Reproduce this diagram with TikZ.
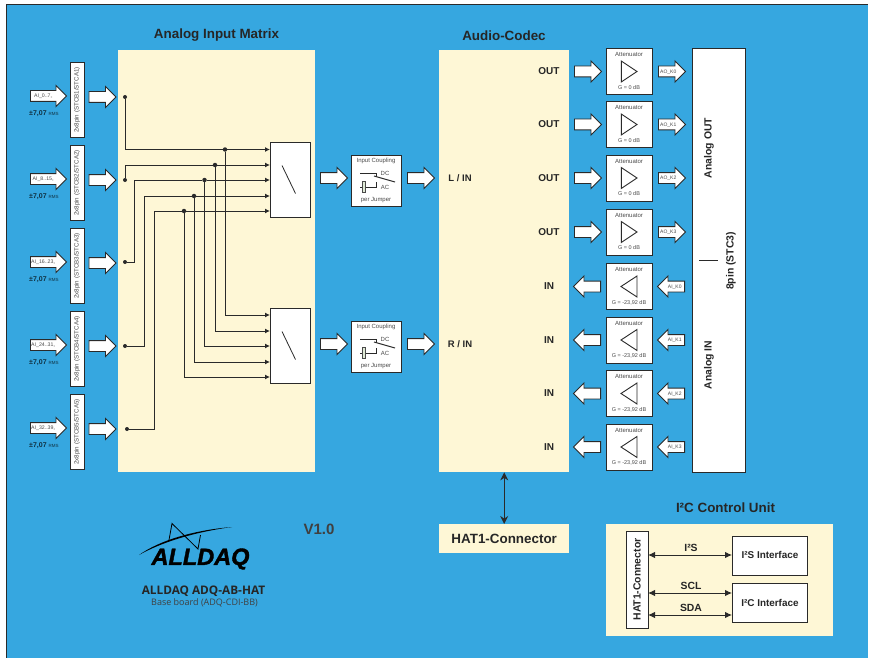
\documentclass[tikz,border=0pt]{standalone}
\usepackage{fontspec}
\setmainfont{Liberation Sans}
\newfontfamily\notofont{Open Sans}
\newfontfamily\logofont[FakeBold=1.6]{Liberation Sans Bold Italic}
\usetikzlibrary{shapes.arrows,arrows.meta}
\definecolor{boardblue}{HTML}{36A7E0}
\definecolor{creamfill}{HTML}{FEF7D6}
\definecolor{darkline}{HTML}{2A2A2A}
\definecolor{greytext}{HTML}{4A4A4A}
\tikzset{
  panel/.style={fill=creamfill,inner sep=0pt},
  whitebox/.style={draw=darkline,fill=white,line width=.9pt,inner sep=0pt},
  blockarrow/.style={single arrow,draw=darkline,fill=white,line width=.9pt,inner sep=0pt,
    minimum height=27pt,minimum width=20pt,single arrow head extend=5pt,anchor=tail,
    execute at begin node={\rule[-3.2pt]{0pt}{10pt}}},
  smallarrow/.style={blockarrow,font=\fontsize{5}{5}\selectfont,text=greytext},
  tinytext/.style={font=\fontsize{6}{7}\selectfont,text=greytext,inner sep=0pt},
  title/.style={font=\fontsize{13.4}{15}\selectfont\bfseries,text=black!85,inner sep=0pt},
  portlabel/.style={font=\fontsize{10}{11}\selectfont\bfseries,text=black!85,inner sep=0pt},
  sidelabel/.style={font=\fontsize{10.4}{12}\selectfont\bfseries,text=black!85,inner sep=0pt},
  dot/.style={circle,fill=darkline,inner sep=0pt,minimum size=4pt},
  bus/.style={darkline,line width=1pt},
  businput/.style={bus,-{Latex[length=5pt,width=5pt]}},
  both/.style={darkline,line width=1pt,{Latex[length=7pt,width=6.5pt]}-{Latex[length=7pt,width=6.5pt]}},
}
\begin{document}
\begin{tikzpicture}[x=1pt,y=-1pt]
  \useasboundingbox (0,0) rectangle (872,658);
  \fill[white] (0,0) rectangle (872,658);
  \fill[boardblue] (6.5,5) rectangle (867.5,658);
  \draw[darkline,line width=1pt] (6.5,658) -- (6.5,5) -- (867.5,5);

  % panels
  \node[panel,minimum width=197pt,minimum height=422pt,anchor=north west] (matrix) at (118,50) {};
  \node[panel,minimum width=130pt,minimum height=422pt,anchor=north west] (codec) at (439,50) {};
  \node[title] (matrixtitle) at (216.5,35.5) {Analog Input Matrix};
  \node[title] (codectitle) at (504,35.5) {Audio-Codec};

  % input channels
  \foreach \n/\y/\ai in {1/96/0..7,2/179/8..15,3/262/16..23,4/345/24..31,5/428/32..39}{
    \node[blockarrow,font=\fontsize{5.2}{5}\selectfont,text=greytext,minimum height=36pt] (in\n) at (30,\y) {\hspace*{-5pt}AI\_\ai\raisebox{-.5pt}{\fontsize{3}{3}\selectfont +}};
    \node[font=\fontsize{7}{8}\selectfont\bfseries,text=black!70!boardblue,inner sep=0pt,anchor=west] (rms\n) at (29,\y+18) {±7,07 {\fontsize{4.5}{5}\selectfont\mdseries RMS}};
    \node[whitebox,minimum width=14pt,minimum height=75pt] (stc\n) at (77,\y+4) {};
    \node[tinytext,rotate=90,font=\fontsize{6.2}{7}\selectfont] (stctext\n) at (77,\y+4) {2x8pin (STCB\n/STCA\n)};
    \node[blockarrow] (mx\n) at (88.5,\y+1) {};
  }

  % switches
  \node[whitebox,minimum width=40pt,minimum height=75pt,anchor=north west] (swl) at (270,142) {};
  \node[whitebox,minimum width=40pt,minimum height=75pt,anchor=north west] (swr) at (270,308) {};
  \draw[darkline,line width=.8pt] (282,165.5) -- (295.5,193.5);
  \draw[darkline,line width=.8pt] (282,331.5) -- (295.5,359.5);

  \node[dot] (d1) at (125,97) {};
  \node[dot] (d2) at (125,180) {};
  \node[dot] (d3) at (125,262) {};
  \node[dot] (d4) at (125,346) {};
  \node[dot] (d5) at (127,429) {};

  \foreach \n/\x/\yl/\yr in {1/225/149.5/315,2/215/165/331,3/204.5/180/346,4/194/196/362,5/184/211/377}{
    \coordinate (l\n) at (270,\yl);
    \coordinate (r\n) at (270,\yr);
    \node[dot,minimum size=4.5pt] (j\n) at (\x,\yl) {};
    \draw[businput] (j\n) -- (\x,\yr) -- (r\n);
    \draw[businput] (j\n) -- (l\n);
  }
  \draw[bus] (d1) -- (d1 |- j1) -- (j1);
  \draw[bus] (d2) -- (d2 |- j2) -- (j2);
  \draw[bus] (d3) -- (134,262) -- (134,180) -- (j3);
  \draw[bus] (d4) -- (144,346) -- (144,196) -- (j4);
  \draw[bus] (d5) -- (154,429) -- (154,211) -- (j5);

  % coupling
  \foreach \n/\y/\side in {l/178/L,r/344/R}{
    \node[blockarrow] (sw\n out) at (320,\y) {};
    \node[whitebox,minimum width=50pt,minimum height=51pt] (cp\n) at (376,\y+2.5) {};
    \node[tinytext] (cp\n top) at (376,\y-17) {Input Coupling};
    \node[tinytext] (cp\n bot) at (376,\y+22) {per Jumper};
    \node[tinytext] (cp\n dc) at (385,\y-5) {DC};
    \node[tinytext] (cp\n ac) at (385,\y+9) {AC};
    \draw[darkline,line width=.6pt] (360,\y-5) -- (376.5,\y-5) -- (376.5,\y-1);
    \draw[darkline,line width=.6pt] (360,\y+9) -- (376.5,\y+9) -- (376.5,\y+4);
    \draw[darkline,line width=1pt] (374,\y-2) -- (395,\y+4);
    \fill[boardblue!15!creamfill,draw=greytext,line width=.5pt] (362.5,\y+3.5) rectangle (365.5,\y+14);
    \node[blockarrow] (cp\n out) at (407,\y) {};
    \node[portlabel,font=\fontsize{9.5}{11}\selectfont\bfseries] (\n in) at (460,\y) {\side\ / IN};
  }

  % attenuators
  \foreach \n/\y/\k in {0/71.5/0,1/124.5/1,2/178/2,3/232/3}{
    \node[portlabel] (outlab\n) at (549,\y) {OUT};
    \node[blockarrow] (aout\n) at (574,\y) {};
    \node[whitebox,minimum width=46pt,minimum height=46pt] (att\n) at (629,\y) {};
    \node[tinytext] (atttop\n) at (629,\y-17) {Attenuator};
    \node[tinytext,font=\fontsize{5.5}{6}\selectfont] (attbot\n) at (629,\y+16) {G = 0 dB};
    \draw[darkline,line width=.9pt] (621.3,\y-10.5) -- (637,\y) -- (621.3,\y+10.5) -- cycle;
    \node[smallarrow] (ko\n) at (658,\y) {\hspace*{-2pt}AO\_K\k};
  }
  \foreach \n/\y/\k in {4/286.5/0,5/340/1,6/393.5/2,7/447/3}{
    \node[portlabel] (inlab\n) at (549,\y) {IN};
    \node[blockarrow,shape border rotate=180] (ain\n) at (601,\y) {};
    \node[whitebox,minimum width=46pt,minimum height=46pt] (att\n) at (629,\y) {};
    \node[tinytext] (atttop\n) at (629,\y-17) {Attenuator};
    \node[tinytext,font=\fontsize{5.5}{6}\selectfont] (attbot\n) at (629,\y+16) {G = -23,92 dB};
    \draw[darkline,line width=.9pt] (637,\y-10.5) -- (621,\y) -- (637,\y+10.5) -- cycle;
    \node[smallarrow,shape border rotate=180] (ki\n) at (685,\y) {\hspace*{2pt}AI\_K\k};
  }

  % analog connector
  \node[whitebox,minimum width=53pt,minimum height=424pt,anchor=north west] (stcthree) at (692,48) {};
  \node[sidelabel,rotate=90] (anaout) at (709,148) {Analog OUT};
  \node[sidelabel,rotate=90] (anain) at (709,365) {Analog IN};
  \node[sidelabel,rotate=90] (pin) at (731,261) {8pin (STC3)};
  \draw[darkline,line width=.8pt] (699,260) -- (718,260);

  % HAT
  \node[panel,minimum width=130pt,minimum height=29pt,font=\fontsize{13.4}{15}\selectfont\bfseries,text=black!85,anchor=north west] (hat) at (439,524) {HAT1-Connector};
  \draw[darkline,line width=1pt,{Stealth[length=8pt,width=8pt]}-{Stealth[length=8pt,width=8pt]}] (codec.south) -- (hat.north);

  % I2C unit
  \node[title] (i2ctitle) at (725.5,508) {I²C Control Unit};
  \node[panel,minimum width=227pt,minimum height=112pt,anchor=north west] (i2cpanel) at (606,524) {};
  \node[whitebox,minimum width=22pt,minimum height=97pt,anchor=north west] (hatbox) at (626,531) {};
  \node[sidelabel,rotate=90] (hattext) at (637,579.5) {HAT1-Connector};
  \node[whitebox,minimum width=75pt,minimum height=39pt,anchor=north west,font=\fontsize{9.9}{11}\selectfont\bfseries,text=black!85] (i2sif) at (732,535.5) {I²S Interface};
  \node[whitebox,minimum width=75pt,minimum height=39pt,anchor=north west,font=\fontsize{9.9}{11}\selectfont\bfseries,text=black!85] (i2cif) at (732,583) {I²C Interface};
  \coordinate (pa) at (648,555);
  \coordinate (pb) at (648,593);
  \coordinate (pc) at (648,615);
  \draw[both] (pa) -- (pa -| i2sif.west);
  \draw[both] (pb) -- (pb -| i2cif.west);
  \draw[both] (pc) -- (pc -| i2cif.west);
  \node[sidelabel] (lbla) at (691,548) {I²S};
  \node[sidelabel] (lblb) at (691,586) {SCL};
  \node[sidelabel] (lblc) at (691,607.5) {SDA};

  % logo
  \fill[black] (139,555) .. controls (160,540) and (195,530) .. (232,527) .. controls (195,532) and (162,542) .. cycle;
  \draw[black,line width=.8pt] (169,540) -- (172,523.5) -- (198,549) -- (200.5,535);
  \node[font=\fontsize{23.5}{26}\selectfont\logofont,text=black,inner sep=0pt] (logo) at (200.5,559) {ALLDAQ};
  \node[font=\fontsize{11.8}{13}\selectfont\bfseries\notofont,text=black!85,inner sep=0pt] (prod) at (203.5,591) {ALLDAQ ADQ-AB-HAT};
  \node[font=\fontsize{9}{10}\selectfont\notofont,text=black!75,inner sep=0pt] (base) at (204.5,603) {Base board (ADQ-CDI-BB)};
  \node[title,font=\fontsize{15}{16}\selectfont\bfseries,text=black!75] (ver) at (319,529.5) {V1.0};
\end{tikzpicture}
\end{document}
